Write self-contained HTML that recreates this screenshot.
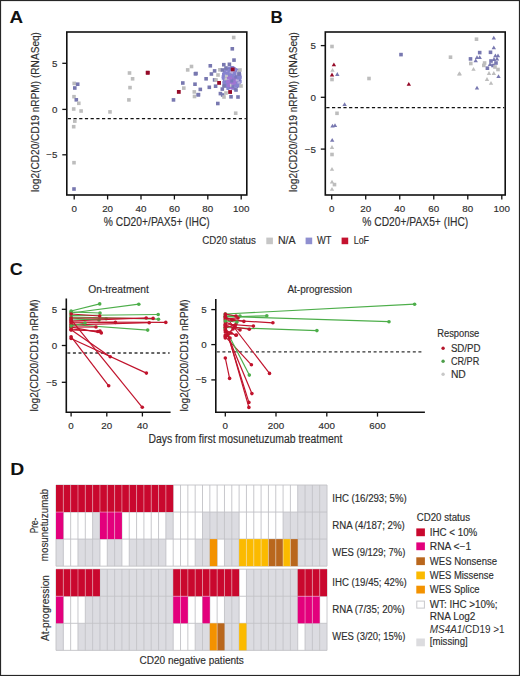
<!DOCTYPE html>
<html><head><meta charset="utf-8"><style>
html,body{margin:0;padding:0;background:#fff;}
svg{display:block;font-family:"Liberation Sans", sans-serif;}
</style></head><body>
<svg width="520" height="676" viewBox="0 0 520 676">
<rect width="520" height="676" fill="#fff"/>
<text x="9.6" y="22.6" font-size="17" text-anchor="start" font-weight="bold" fill="#111" textLength="13.6" lengthAdjust="spacingAndGlyphs">A</text>
<text x="270.4" y="22.6" font-size="17" text-anchor="start" font-weight="bold" fill="#111" textLength="12.3" lengthAdjust="spacingAndGlyphs">B</text>
<text x="9.8" y="275.3" font-size="17" text-anchor="start" font-weight="bold" fill="#111" textLength="13.0" lengthAdjust="spacingAndGlyphs">C</text>
<text x="10.2" y="474.8" font-size="17" text-anchor="start" font-weight="bold" fill="#111" textLength="14.0" lengthAdjust="spacingAndGlyphs">D</text>
<rect x="66.8" y="32" width="180.0" height="163" fill="none" stroke="#111" stroke-width="1.6"/>
<line x1="62.3" y1="63.3" x2="66.8" y2="63.3" stroke="#111" stroke-width="1.3"/>
<text x="57.4" y="66.7" font-size="9.8" text-anchor="end" fill="#2e2e2e" stroke="#2e2e2e" stroke-width="0.15">5</text>
<line x1="62.3" y1="109.4" x2="66.8" y2="109.4" stroke="#111" stroke-width="1.3"/>
<text x="57.4" y="112.80000000000001" font-size="9.8" text-anchor="end" fill="#2e2e2e" stroke="#2e2e2e" stroke-width="0.15">0</text>
<line x1="62.3" y1="154.8" x2="66.8" y2="154.8" stroke="#111" stroke-width="1.3"/>
<text x="57.4" y="158.20000000000002" font-size="9.8" text-anchor="end" fill="#2e2e2e" stroke="#2e2e2e" stroke-width="0.15">−5</text>
<line x1="74.2" y1="195" x2="74.2" y2="199.5" stroke="#111" stroke-width="1.3"/>
<text x="74.2" y="212" font-size="9.8" text-anchor="middle" fill="#2e2e2e" stroke="#2e2e2e" stroke-width="0.15">0</text>
<line x1="107.6" y1="195" x2="107.6" y2="199.5" stroke="#111" stroke-width="1.3"/>
<text x="107.6" y="212" font-size="9.8" text-anchor="middle" fill="#2e2e2e" stroke="#2e2e2e" stroke-width="0.15">20</text>
<line x1="141.0" y1="195" x2="141.0" y2="199.5" stroke="#111" stroke-width="1.3"/>
<text x="141.0" y="212" font-size="9.8" text-anchor="middle" fill="#2e2e2e" stroke="#2e2e2e" stroke-width="0.15">40</text>
<line x1="174.39999999999998" y1="195" x2="174.39999999999998" y2="199.5" stroke="#111" stroke-width="1.3"/>
<text x="174.39999999999998" y="212" font-size="9.8" text-anchor="middle" fill="#2e2e2e" stroke="#2e2e2e" stroke-width="0.15">60</text>
<line x1="207.8" y1="195" x2="207.8" y2="199.5" stroke="#111" stroke-width="1.3"/>
<text x="207.8" y="212" font-size="9.8" text-anchor="middle" fill="#2e2e2e" stroke="#2e2e2e" stroke-width="0.15">80</text>
<line x1="241.2" y1="195" x2="241.2" y2="199.5" stroke="#111" stroke-width="1.3"/>
<text x="241.2" y="212" font-size="9.8" text-anchor="middle" fill="#2e2e2e" stroke="#2e2e2e" stroke-width="0.15">100</text>
<line x1="67.8" y1="118.6" x2="245.8" y2="118.6" stroke="#111" stroke-width="1.3" stroke-dasharray="3.2,2.5"/>
<text x="156.8" y="225.8" font-size="11.9" text-anchor="middle" fill="#2e2e2e" stroke="#2e2e2e" stroke-width="0.15" textLength="106" lengthAdjust="spacingAndGlyphs">% CD20+/PAX5+ (IHC)</text>
<text transform="translate(38.8,112.0) rotate(-90)" x="0" y="0" font-size="11.6" text-anchor="middle" fill="#2e2e2e" stroke="#2e2e2e" stroke-width="0.15" textLength="160" lengthAdjust="spacingAndGlyphs">log2(CD20/CD19 nRPM) (RNASeq)</text>
<rect x="223.2" y="67.6" width="17" height="21.4" rx="6" ry="7" fill="#8c82d0"/>
<rect x="227.2" y="69.2" width="3.0" height="3.0" fill="#8683cf"/>
<rect x="222.8" y="77.6" width="3.0" height="3.0" fill="#8683cf"/>
<rect x="222.6" y="77.0" width="3.0" height="3.0" fill="#8683cf"/>
<rect x="229.1" y="67.4" width="3.0" height="3.0" fill="#8683cf"/>
<rect x="228.9" y="83.9" width="3.0" height="3.0" fill="#a176d2"/>
<rect x="225.4" y="79.6" width="3.0" height="3.0" fill="#b7b0dc"/>
<rect x="231.5" y="74.5" width="3.0" height="3.0" fill="#c4c4c8"/>
<rect x="226.6" y="69.0" width="3.0" height="3.0" fill="#8683cf"/>
<rect x="226.9" y="83.7" width="3.0" height="3.0" fill="#a176d2"/>
<rect x="231.6" y="79.8" width="3.0" height="3.0" fill="#a176d2"/>
<rect x="231.0" y="67.3" width="3.0" height="3.0" fill="#8683cf"/>
<rect x="225.1" y="80.7" width="3.0" height="3.0" fill="#a176d2"/>
<rect x="227.0" y="78.7" width="3.0" height="3.0" fill="#a176d2"/>
<rect x="226.8" y="83.2" width="3.0" height="3.0" fill="#8683cf"/>
<rect x="225.8" y="78.4" width="3.0" height="3.0" fill="#a176d2"/>
<rect x="236.7" y="81.8" width="3.0" height="3.0" fill="#8683cf"/>
<rect x="228.8" y="82.4" width="3.0" height="3.0" fill="#a176d2"/>
<rect x="230.0" y="66.8" width="3.0" height="3.0" fill="#8683cf"/>
<rect x="234.8" y="78.4" width="3.0" height="3.0" fill="#7a78bd"/>
<rect x="227.0" y="81.1" width="3.0" height="3.0" fill="#a176d2"/>
<rect x="231.6" y="75.8" width="3.0" height="3.0" fill="#7a78bd"/>
<rect x="237.8" y="76.2" width="3.0" height="3.0" fill="#8683cf"/>
<rect x="222.6" y="81.2" width="3.0" height="3.0" fill="#8683cf"/>
<rect x="226.5" y="74.3" width="3.0" height="3.0" fill="#8683cf"/>
<rect x="222.0" y="76.0" width="3.0" height="3.0" fill="#8683cf"/>
<rect x="234.8" y="68.7" width="3.0" height="3.0" fill="#8683cf"/>
<rect x="228.3" y="84.9" width="3.0" height="3.0" fill="#a176d2"/>
<rect x="229.3" y="77.9" width="3.0" height="3.0" fill="#b7b0dc"/>
<rect x="235.7" y="84.7" width="3.0" height="3.0" fill="#8683cf"/>
<rect x="228.7" y="73.7" width="3.0" height="3.0" fill="#b7b0dc"/>
<rect x="224.6" y="71.0" width="3.0" height="3.0" fill="#8683cf"/>
<rect x="229.9" y="78.7" width="3.0" height="3.0" fill="#a176d2"/>
<rect x="221.7" y="75.0" width="3.0" height="3.0" fill="#8683cf"/>
<rect x="231.3" y="86.7" width="3.0" height="3.0" fill="#8683cf"/>
<rect x="230.5" y="79.4" width="3.0" height="3.0" fill="#8683cf"/>
<rect x="235.0" y="85.0" width="3.0" height="3.0" fill="#7a78bd"/>
<rect x="228.3" y="74.6" width="3.0" height="3.0" fill="#a176d2"/>
<rect x="232.5" y="67.3" width="3.0" height="3.0" fill="#8683cf"/>
<rect x="225.2" y="69.4" width="3.0" height="3.0" fill="#8683cf"/>
<rect x="224.2" y="68.1" width="3.0" height="3.0" fill="#8683cf"/>
<rect x="232.2" y="69.1" width="3.0" height="3.0" fill="#8683cf"/>
<rect x="227.6" y="73.8" width="3.0" height="3.0" fill="#8683cf"/>
<rect x="229.6" y="76.4" width="3.0" height="3.0" fill="#a176d2"/>
<rect x="223.4" y="73.4" width="3.0" height="3.0" fill="#8683cf"/>
<rect x="235.9" y="69.4" width="3.0" height="3.0" fill="#8683cf"/>
<rect x="238.0" y="77.4" width="3.0" height="3.0" fill="#8683cf"/>
<rect x="230.9" y="66.5" width="3.0" height="3.0" fill="#8683cf"/>
<rect x="233.6" y="71.6" width="3.0" height="3.0" fill="#8683cf"/>
<rect x="224.5" y="82.7" width="3.0" height="3.0" fill="#8683cf"/>
<rect x="235.0" y="73.1" width="3.0" height="3.0" fill="#8683cf"/>
<rect x="236.3" y="83.5" width="3.0" height="3.0" fill="#7a78bd"/>
<rect x="234.3" y="70.8" width="3.0" height="3.0" fill="#8683cf"/>
<rect x="227.7" y="66.5" width="3.0" height="3.0" fill="#8683cf"/>
<rect x="226.4" y="71.6" width="3.0" height="3.0" fill="#8683cf"/>
<rect x="238.1" y="75.6" width="3.0" height="3.0" fill="#b7b0dc"/>
<rect x="227.9" y="70.7" width="3.0" height="3.0" fill="#8683cf"/>
<rect x="225.0" y="70.4" width="3.0" height="3.0" fill="#8683cf"/>
<rect x="237.1" y="84.2" width="3.0" height="3.0" fill="#8683cf"/>
<rect x="232.8" y="83.3" width="3.0" height="3.0" fill="#a176d2"/>
<rect x="233.0" y="85.7" width="3.0" height="3.0" fill="#7a78bd"/>
<rect x="234.5" y="76.3" width="3.0" height="3.0" fill="#8683cf"/>
<rect x="235.2" y="73.1" width="3.0" height="3.0" fill="#7a78bd"/>
<rect x="238.3" y="74.5" width="3.0" height="3.0" fill="#8683cf"/>
<rect x="237.9" y="81.7" width="3.0" height="3.0" fill="#8683cf"/>
<rect x="223.8" y="69.2" width="3.0" height="3.0" fill="#b7b0dc"/>
<rect x="235.5" y="69.1" width="3.0" height="3.0" fill="#7a78bd"/>
<rect x="238.5" y="80.2" width="3.0" height="3.0" fill="#8683cf"/>
<rect x="231.0" y="68.8" width="3.0" height="3.0" fill="#8683cf"/>
<rect x="238.3" y="80.1" width="3.0" height="3.0" fill="#8683cf"/>
<rect x="237.7" y="75.4" width="3.0" height="3.0" fill="#7a78bd"/>
<rect x="235.8" y="70.5" width="3.0" height="3.0" fill="#8683cf"/>
<rect x="226.6" y="71.1" width="3.0" height="3.0" fill="#8683cf"/>
<rect x="226.1" y="75.0" width="3.0" height="3.0" fill="#a176d2"/>
<rect x="237.3" y="73.6" width="3.0" height="3.0" fill="#8683cf"/>
<rect x="231.6" y="85.6" width="3.0" height="3.0" fill="#a176d2"/>
<rect x="237.4" y="76.8" width="3.0" height="3.0" fill="#8683cf"/>
<rect x="230.6" y="66.3" width="3.0" height="3.0" fill="#8683cf"/>
<rect x="235.3" y="69.7" width="3.0" height="3.0" fill="#8683cf"/>
<rect x="234.1" y="78.0" width="3.0" height="3.0" fill="#a176d2"/>
<rect x="230.5" y="78.0" width="3.0" height="3.0" fill="#7a78bd"/>
<rect x="223.4" y="78.1" width="3.0" height="3.0" fill="#8683cf"/>
<rect x="226.4" y="82.7" width="3.0" height="3.0" fill="#a176d2"/>
<rect x="231.3" y="82.5" width="3.0" height="3.0" fill="#b7b0dc"/>
<rect x="229.2" y="79.3" width="3.0" height="3.0" fill="#a176d2"/>
<rect x="230.4" y="81.0" width="3.0" height="3.0" fill="#a176d2"/>
<rect x="230.8" y="76.3" width="3.0" height="3.0" fill="#b7b0dc"/>
<rect x="233.6" y="85.0" width="3.0" height="3.0" fill="#b7b0dc"/>
<rect x="226.1" y="78.1" width="3.0" height="3.0" fill="#b7b0dc"/>
<rect x="236.0" y="68.9" width="3.0" height="3.0" fill="#8683cf"/>
<rect x="229.2" y="67.5" width="3.0" height="3.0" fill="#8683cf"/>
<rect x="222.9" y="80.5" width="3.0" height="3.0" fill="#7a78bd"/>
<rect x="237.0" y="69.3" width="3.0" height="3.0" fill="#7a78bd"/>
<rect x="233.0" y="69.0" width="3.0" height="3.0" fill="#b7b0dc"/>
<rect x="238.0" y="74.6" width="3.0" height="3.0" fill="#8683cf"/>
<rect x="224.4" y="75.3" width="3.0" height="3.0" fill="#8683cf"/>
<rect x="227.4" y="70.2" width="3.0" height="3.0" fill="#8683cf"/>
<rect x="231.1" y="75.5" width="3.0" height="3.0" fill="#a176d2"/>
<rect x="227.3" y="79.5" width="3.0" height="3.0" fill="#a176d2"/>
<rect x="223.4" y="71.7" width="3.0" height="3.0" fill="#8683cf"/>
<rect x="235.0" y="71.8" width="3.0" height="3.0" fill="#8683cf"/>
<rect x="228.9" y="85.8" width="3.0" height="3.0" fill="#7a78bd"/>
<rect x="226.0" y="69.2" width="3.0" height="3.0" fill="#b7b0dc"/>
<rect x="231.4" y="81.2" width="3.0" height="3.0" fill="#a176d2"/>
<rect x="222.6" y="80.9" width="3.0" height="3.0" fill="#8683cf"/>
<rect x="232.5" y="83.4" width="3.0" height="3.0" fill="#a176d2"/>
<rect x="236.4" y="75.8" width="3.0" height="3.0" fill="#8683cf"/>
<rect x="231.1" y="86.1" width="3.0" height="3.0" fill="#a176d2"/>
<rect x="223.8" y="77.4" width="3.0" height="3.0" fill="#8683cf"/>
<rect x="223.5" y="69.4" width="3.0" height="3.0" fill="#8683cf"/>
<rect x="225.1" y="72.7" width="3.0" height="3.0" fill="#8683cf"/>
<rect x="234.7" y="72.2" width="3.0" height="3.0" fill="#8683cf"/>
<rect x="224.7" y="73.5" width="3.0" height="3.0" fill="#8683cf"/>
<rect x="234.2" y="77.9" width="3.0" height="3.0" fill="#a176d2"/>
<rect x="229.8" y="86.3" width="3.0" height="3.0" fill="#a176d2"/>
<rect x="235.7" y="75.3" width="3.0" height="3.0" fill="#8683cf"/>
<rect x="236.0" y="74.5" width="3.0" height="3.0" fill="#8683cf"/>
<rect x="233.4" y="87.3" width="3.0" height="3.0" fill="#8683cf"/>
<rect x="235.9" y="81.3" width="3.0" height="3.0" fill="#8683cf"/>
<rect x="228.6" y="73.5" width="3.0" height="3.0" fill="#8683cf"/>
<rect x="234.3" y="71.5" width="3.0" height="3.0" fill="#8683cf"/>
<rect x="223.1" y="84.2" width="3.0" height="3.0" fill="#7a78bd"/>
<rect x="233.1" y="72.0" width="3.0" height="3.0" fill="#8683cf"/>
<rect x="226.6" y="75.9" width="3.0" height="3.0" fill="#a176d2"/>
<rect x="229.3" y="71.6" width="3.0" height="3.0" fill="#c4c4c8"/>
<rect x="238.3" y="77.8" width="3.0" height="3.0" fill="#8683cf"/>
<rect x="238.2" y="72.6" width="3.0" height="3.0" fill="#8683cf"/>
<rect x="229.8" y="76.9" width="3.0" height="3.0" fill="#a176d2"/>
<rect x="230.3" y="66.0" width="3.0" height="3.0" fill="#8683cf"/>
<rect x="223.1" y="74.6" width="3.0" height="3.0" fill="#8683cf"/>
<rect x="222.0" y="72.5" width="3.0" height="3.0" fill="#8683cf"/>
<rect x="231.7" y="77.4" width="3.0" height="3.0" fill="#7a78bd"/>
<rect x="232.9" y="81.5" width="3.0" height="3.0" fill="#7a78bd"/>
<rect x="228.3" y="73.0" width="3.0" height="3.0" fill="#c4c4c8"/>
<rect x="224.2" y="81.7" width="3.0" height="3.0" fill="#8683cf"/>
<rect x="236.9" y="79.6" width="3.0" height="3.0" fill="#7a78bd"/>
<rect x="235.6" y="68.9" width="3.0" height="3.0" fill="#8683cf"/>
<rect x="230.3" y="84.1" width="3.0" height="3.0" fill="#7a78bd"/>
<rect x="235.8" y="78.6" width="3.0" height="3.0" fill="#b7b0dc"/>
<rect x="233.3" y="81.0" width="3.0" height="3.0" fill="#a176d2"/>
<rect x="227.8" y="68.2" width="3.0" height="3.0" fill="#7a78bd"/>
<rect x="231.2" y="79.6" width="3.0" height="3.0" fill="#8683cf"/>
<rect x="233.3" y="76.6" width="3.0" height="3.0" fill="#a176d2"/>
<rect x="235.3" y="82.2" width="3.0" height="3.0" fill="#8683cf"/>
<rect x="230.8" y="80.3" width="3.0" height="3.0" fill="#a176d2"/>
<rect x="234.3" y="71.4" width="3.0" height="3.0" fill="#8683cf"/>
<rect x="226.2" y="81.8" width="3.0" height="3.0" fill="#a176d2"/>
<rect x="230.1" y="74.2" width="3.0" height="3.0" fill="#8683cf"/>
<rect x="233.4" y="82.6" width="3.0" height="3.0" fill="#a176d2"/>
<rect x="232.7" y="67.6" width="3.0" height="3.0" fill="#8683cf"/>
<rect x="226.0" y="82.1" width="3.0" height="3.0" fill="#a176d2"/>
<rect x="231.4" y="66.2" width="3.0" height="3.0" fill="#8683cf"/>
<rect x="226.2" y="80.5" width="3.0" height="3.0" fill="#8683cf"/>
<rect x="233.2" y="72.2" width="3.0" height="3.0" fill="#8683cf"/>
<rect x="229.6" y="76.1" width="3.0" height="3.0" fill="#a176d2"/>
<rect x="237.0" y="70.2" width="3.0" height="3.0" fill="#c4c4c8"/>
<rect x="229.5" y="83.8" width="3.0" height="3.0" fill="#c4c4c8"/>
<rect x="229.3" y="71.8" width="3.0" height="3.0" fill="#8683cf"/>
<rect x="237.9" y="70.5" width="3.0" height="3.0" fill="#8683cf"/>
<rect x="224.0" y="77.3" width="3.0" height="3.0" fill="#c4c4c8"/>
<rect x="223.9" y="83.8" width="3.0" height="3.0" fill="#8683cf"/>
<rect x="236.9" y="81.2" width="3.0" height="3.0" fill="#8683cf"/>
<rect x="237.0" y="76.5" width="3.0" height="3.0" fill="#8683cf"/>
<rect x="221.7" y="76.6" width="3.0" height="3.0" fill="#8683cf"/>
<rect x="226.8" y="69.0" width="3.0" height="3.0" fill="#8683cf"/>
<rect x="227.0" y="84.2" width="3.0" height="3.0" fill="#a176d2"/>
<rect x="234.5" y="84.2" width="3.0" height="3.0" fill="#8683cf"/>
<rect x="237.5" y="81.4" width="3.0" height="3.0" fill="#b7b0dc"/>
<rect x="226.6" y="74.0" width="3.0" height="3.0" fill="#8683cf"/>
<rect x="227.8" y="75.2" width="3.0" height="3.0" fill="#a176d2"/>
<rect x="236.0" y="72.1" width="3.0" height="3.0" fill="#b7b0dc"/>
<rect x="225.9" y="71.7" width="3.0" height="3.0" fill="#8683cf"/>
<rect x="224.9" y="74.0" width="3.0" height="3.0" fill="#c4c4c8"/>
<rect x="236.8" y="83.6" width="3.0" height="3.0" fill="#8683cf"/>
<rect x="231.0" y="81.6" width="3.0" height="3.0" fill="#a176d2"/>
<rect x="234.2" y="75.7" width="3.0" height="3.0" fill="#7a78bd"/>
<rect x="232.7" y="72.1" width="3.0" height="3.0" fill="#8683cf"/>
<rect x="229.7" y="73.4" width="3.0" height="3.0" fill="#8683cf"/>
<rect x="226.1" y="80.2" width="3.0" height="3.0" fill="#a176d2"/>
<rect x="231.2" y="74.5" width="3.0" height="3.0" fill="#8683cf"/>
<rect x="224.4" y="70.4" width="3.0" height="3.0" fill="#b7b0dc"/>
<rect x="230.1" y="70.7" width="3.0" height="3.0" fill="#b7b0dc"/>
<rect x="238.7" y="75.7" width="3.0" height="3.0" fill="#8683cf"/>
<rect x="224.9" y="67.9" width="3.0" height="3.0" fill="#8683cf"/>
<rect x="223.2" y="71.1" width="3.0" height="3.0" fill="#8683cf"/>
<rect x="231.4" y="85.2" width="3.0" height="3.0" fill="#7a78bd"/>
<rect x="228.7" y="74.9" width="3.0" height="3.0" fill="#a176d2"/>
<rect x="228.1" y="73.3" width="3.0" height="3.0" fill="#8683cf"/>
<rect x="226.4" y="87.0" width="3.0" height="3.0" fill="#8683cf"/>
<rect x="230.3" y="79.6" width="3.0" height="3.0" fill="#7a78bd"/>
<rect x="225.3" y="71.8" width="3.0" height="3.0" fill="#8683cf"/>
<rect x="72.4" y="81.6" width="3.6" height="3.6" fill="#bdbdbd"/>
<rect x="75.9" y="82.4" width="3.6" height="3.6" fill="#7878b0"/>
<rect x="73.0" y="86.2" width="3.6" height="3.6" fill="#7878b0"/>
<rect x="72.2" y="94.9" width="3.6" height="3.6" fill="#bdbdbd"/>
<rect x="74.5" y="98.0" width="3.6" height="3.6" fill="#7878b0"/>
<rect x="77.0" y="101.5" width="3.6" height="3.6" fill="#bdbdbd"/>
<rect x="71.9" y="107.2" width="3.6" height="3.6" fill="#bdbdbd"/>
<rect x="79.3" y="109.2" width="3.6" height="3.6" fill="#bdbdbd"/>
<rect x="108.2" y="110.1" width="3.6" height="3.6" fill="#bdbdbd"/>
<rect x="73.0" y="119.3" width="3.6" height="3.6" fill="#bdbdbd"/>
<rect x="71.9" y="124.9" width="3.6" height="3.6" fill="#bdbdbd"/>
<rect x="72.2" y="160.9" width="3.6" height="3.6" fill="#bdbdbd"/>
<rect x="72.2" y="187.2" width="3.6" height="3.6" fill="#7878b0"/>
<rect x="127.7" y="71.2" width="3.6" height="3.6" fill="#bdbdbd"/>
<rect x="145.9" y="70.9" width="3.6" height="3.6" fill="#950a28"/>
<rect x="130.8" y="77.0" width="3.6" height="3.6" fill="#bdbdbd"/>
<rect x="128.2" y="85.8" width="3.6" height="3.6" fill="#bdbdbd"/>
<rect x="127.1" y="98.1" width="3.6" height="3.6" fill="#bdbdbd"/>
<rect x="189.7" y="64.7" width="3.6" height="3.6" fill="#bdbdbd"/>
<rect x="185.9" y="68.1" width="3.6" height="3.6" fill="#bdbdbd"/>
<rect x="193.6" y="72.0" width="3.6" height="3.6" fill="#7878b0"/>
<rect x="181.0" y="81.2" width="3.6" height="3.6" fill="#7878b0"/>
<rect x="193.2" y="82.4" width="3.6" height="3.6" fill="#7878b0"/>
<rect x="182.0" y="86.3" width="3.6" height="3.6" fill="#bdbdbd"/>
<rect x="192.5" y="90.1" width="3.6" height="3.6" fill="#bdbdbd"/>
<rect x="192.7" y="94.7" width="3.6" height="3.6" fill="#bdbdbd"/>
<rect x="196.7" y="92.9" width="3.6" height="3.6" fill="#7878b0"/>
<rect x="171.7" y="98.1" width="3.6" height="3.6" fill="#7878b0"/>
<rect x="231.9" y="35.7" width="3.6" height="3.6" fill="#bdbdbd"/>
<rect x="230.5" y="47.0" width="3.6" height="3.6" fill="#7878b0"/>
<rect x="232.2" y="58.3" width="3.6" height="3.6" fill="#7878b0"/>
<rect x="208.5" y="64.0" width="3.6" height="3.6" fill="#7878b0"/>
<rect x="222.0" y="62.9" width="3.6" height="3.6" fill="#7878b0"/>
<rect x="227.6" y="62.5" width="3.6" height="3.6" fill="#7878b0"/>
<rect x="212.8" y="69.1" width="3.6" height="3.6" fill="#7878b0"/>
<rect x="218.1" y="68.0" width="3.6" height="3.6" fill="#bdbdbd"/>
<rect x="209.6" y="72.2" width="3.6" height="3.6" fill="#7878b0"/>
<rect x="204.3" y="77.0" width="3.6" height="3.6" fill="#7878b0"/>
<rect x="212.8" y="78.1" width="3.6" height="3.6" fill="#7878b0"/>
<rect x="207.5" y="85.5" width="3.6" height="3.6" fill="#7878b0"/>
<rect x="213.8" y="84.4" width="3.6" height="3.6" fill="#7878b0"/>
<rect x="220.5" y="87.3" width="3.6" height="3.6" fill="#7878b0"/>
<rect x="218.6" y="91.8" width="3.6" height="3.6" fill="#7878b0"/>
<rect x="220.9" y="93.2" width="3.6" height="3.6" fill="#7878b0"/>
<rect x="229.2" y="95.0" width="3.6" height="3.6" fill="#7878b0"/>
<rect x="216.0" y="101.7" width="3.6" height="3.6" fill="#7878b0"/>
<rect x="233.9" y="111.4" width="3.6" height="3.6" fill="#bdbdbd"/>
<rect x="198.5" y="87.6" width="3.6" height="3.6" fill="#7878b0"/>
<rect x="196.4" y="92.9" width="3.6" height="3.6" fill="#7878b0"/>
<rect x="194.2" y="71.7" width="3.6" height="3.6" fill="#7878b0"/>
<rect x="216.2" y="73.2" width="3.6" height="3.6" fill="#bdbdbd"/>
<rect x="214.2" y="78.2" width="3.6" height="3.6" fill="#bdbdbd"/>
<rect x="224.2" y="91.2" width="3.6" height="3.6" fill="#bdbdbd"/>
<rect x="222.2" y="95.2" width="3.6" height="3.6" fill="#bdbdbd"/>
<rect x="236.2" y="95.2" width="3.6" height="3.6" fill="#7878b0"/>
<rect x="238.2" y="68.2" width="3.6" height="3.6" fill="#bdbdbd"/>
<rect x="239.2" y="84.2" width="3.6" height="3.6" fill="#bdbdbd"/>
<rect x="220.7" y="68.2" width="3.6" height="3.6" fill="#7878b0"/>
<rect x="224.2" y="66.2" width="3.6" height="3.6" fill="#7878b0"/>
<rect x="222.2" y="84.2" width="3.6" height="3.6" fill="#7878b0"/>
<rect x="234.2" y="88.2" width="3.6" height="3.6" fill="#7878b0"/>
<rect x="237.2" y="72.2" width="3.6" height="3.6" fill="#7878b0"/>
<rect x="230.8" y="67.5" width="3.8" height="3.8" fill="#950a28"/>
<rect x="217.2" y="81.0" width="3.8" height="3.8" fill="#950a28"/>
<rect x="228.2" y="90.1" width="3.8" height="3.8" fill="#950a28"/>
<rect x="176.9" y="90.0" width="3.8" height="3.8" fill="#950a28"/>
<rect x="145.8" y="70.8" width="3.8" height="3.8" fill="#950a28"/>
<rect x="325.3" y="32" width="179.89999999999998" height="163" fill="none" stroke="#111" stroke-width="1.6"/>
<line x1="320.8" y1="45.6" x2="325.3" y2="45.6" stroke="#111" stroke-width="1.3"/>
<text x="315.90000000000003" y="49.0" font-size="9.8" text-anchor="end" fill="#2e2e2e" stroke="#2e2e2e" stroke-width="0.15">5</text>
<line x1="320.8" y1="97.3" x2="325.3" y2="97.3" stroke="#111" stroke-width="1.3"/>
<text x="315.90000000000003" y="100.7" font-size="9.8" text-anchor="end" fill="#2e2e2e" stroke="#2e2e2e" stroke-width="0.15">0</text>
<line x1="320.8" y1="149.1" x2="325.3" y2="149.1" stroke="#111" stroke-width="1.3"/>
<text x="315.90000000000003" y="152.5" font-size="9.8" text-anchor="end" fill="#2e2e2e" stroke="#2e2e2e" stroke-width="0.15">−5</text>
<line x1="331.7" y1="195" x2="331.7" y2="199.5" stroke="#111" stroke-width="1.3"/>
<text x="331.7" y="212" font-size="9.8" text-anchor="middle" fill="#2e2e2e" stroke="#2e2e2e" stroke-width="0.15">0</text>
<line x1="365.71999999999997" y1="195" x2="365.71999999999997" y2="199.5" stroke="#111" stroke-width="1.3"/>
<text x="365.71999999999997" y="212" font-size="9.8" text-anchor="middle" fill="#2e2e2e" stroke="#2e2e2e" stroke-width="0.15">20</text>
<line x1="399.74" y1="195" x2="399.74" y2="199.5" stroke="#111" stroke-width="1.3"/>
<text x="399.74" y="212" font-size="9.8" text-anchor="middle" fill="#2e2e2e" stroke="#2e2e2e" stroke-width="0.15">40</text>
<line x1="433.76" y1="195" x2="433.76" y2="199.5" stroke="#111" stroke-width="1.3"/>
<text x="433.76" y="212" font-size="9.8" text-anchor="middle" fill="#2e2e2e" stroke="#2e2e2e" stroke-width="0.15">60</text>
<line x1="467.78" y1="195" x2="467.78" y2="199.5" stroke="#111" stroke-width="1.3"/>
<text x="467.78" y="212" font-size="9.8" text-anchor="middle" fill="#2e2e2e" stroke="#2e2e2e" stroke-width="0.15">80</text>
<line x1="501.8" y1="195" x2="501.8" y2="199.5" stroke="#111" stroke-width="1.3"/>
<text x="501.8" y="212" font-size="9.8" text-anchor="middle" fill="#2e2e2e" stroke="#2e2e2e" stroke-width="0.15">100</text>
<line x1="326.3" y1="107.7" x2="504.2" y2="107.7" stroke="#111" stroke-width="1.3" stroke-dasharray="3.2,2.5"/>
<text x="415.25" y="225.8" font-size="11.9" text-anchor="middle" fill="#2e2e2e" stroke="#2e2e2e" stroke-width="0.15" textLength="106" lengthAdjust="spacingAndGlyphs">% CD20+/PAX5+ (IHC)</text>
<text transform="translate(297.3,112.0) rotate(-90)" x="0" y="0" font-size="11.6" text-anchor="middle" fill="#2e2e2e" stroke="#2e2e2e" stroke-width="0.15" textLength="160" lengthAdjust="spacingAndGlyphs">log2(CD20/CD19 nRPM) (RNASeq)</text>
<rect x="474.7" y="37.4" width="3.6" height="3.6" fill="#bdbdbd"/>
<path d="M491.6,39.6L493.8,35.8L496.0,39.6Z" fill="#7878b0"/>
<path d="M491.6,49.3L493.8,45.5L496.0,49.3Z" fill="#7878b0"/>
<rect x="448.7" y="55.4" width="3.6" height="3.6" fill="#bdbdbd"/>
<rect x="477.9" y="50.8" width="3.6" height="3.6" fill="#7878b0"/>
<rect x="488.7" y="50.5" width="3.6" height="3.6" fill="#7878b0"/>
<rect x="468.7" y="57.1" width="3.6" height="3.6" fill="#7878b0"/>
<path d="M474.8,59.1L477.0,55.3L479.2,59.1Z" fill="#7878b0"/>
<path d="M477.5,59.1L479.7,55.3L481.9,59.1Z" fill="#7878b0"/>
<path d="M473.5,62.2L475.7,58.4L477.9,62.2Z" fill="#7878b0"/>
<path d="M493.2,57.3L495.4,53.5L497.6,57.3Z" fill="#7878b0"/>
<path d="M495.8,57.3L498.0,53.5L500.2,57.3Z" fill="#7878b0"/>
<rect x="469.0" y="61.7" width="3.6" height="3.6" fill="#bdbdbd"/>
<rect x="482.8" y="61.2" width="3.6" height="3.6" fill="#bdbdbd"/>
<rect x="482.0" y="63.6" width="3.6" height="3.6" fill="#bdbdbd"/>
<rect x="485.6" y="66.4" width="3.6" height="3.6" fill="#7878b0"/>
<path d="M471.3,70.8L473.5,67.0L475.7,70.8Z" fill="#bdbdbd"/>
<path d="M457.5,75.3L459.7,71.5L461.9,75.3Z" fill="#bdbdbd"/>
<path d="M486.8,74.9L489.0,71.1L491.2,74.9Z" fill="#bdbdbd"/>
<path d="M491.6,74.9L493.8,71.1L496.0,74.9Z" fill="#bdbdbd"/>
<rect x="496.2" y="67.7" width="3.6" height="3.6" fill="#bdbdbd"/>
<path d="M496.3,78.1L498.5,74.3L500.7,78.1Z" fill="#7878b0"/>
<path d="M484.8,80.9L487.0,77.1L489.2,80.9Z" fill="#bdbdbd"/>
<path d="M488.8,84.7L491.0,80.9L493.2,84.7Z" fill="#bdbdbd"/>
<path d="M474.8,89.6L477.0,85.8L479.2,89.6Z" fill="#7878b0"/>
<rect x="489.2" y="59.2" width="3.6" height="3.6" fill="#7878b0"/>
<path d="M491.8,60.9L494.0,57.1L496.2,60.9Z" fill="#7878b0"/>
<rect x="494.2" y="61.2" width="3.6" height="3.6" fill="#7878b0"/>
<rect x="491.2" y="63.7" width="3.6" height="3.6" fill="#7878b0"/>
<path d="M494.8,60.4L497.0,56.6L499.2,60.4Z" fill="#7878b0"/>
<rect x="493.2" y="65.2" width="3.6" height="3.6" fill="#bdbdbd"/>
<path d="M487.8,65.9L490.0,62.1L492.2,65.9Z" fill="#7878b0"/>
<rect x="330.2" y="44.7" width="3.6" height="3.6" fill="#bdbdbd"/>
<path d="M330.3,71.8L332.5,68.0L334.7,71.8Z" fill="#bdbdbd"/>
<path d="M335.1,75.9L337.3,72.1L339.5,75.9Z" fill="#7878b0"/>
<rect x="330.2" y="77.7" width="3.6" height="3.6" fill="#bdbdbd"/>
<rect x="367.2" y="76.7" width="3.6" height="3.6" fill="#bdbdbd"/>
<path d="M342.4,106.1L344.6,102.3L346.8,106.1Z" fill="#7878b0"/>
<rect x="399.2" y="52.8" width="3.6" height="3.6" fill="#7878b0"/>
<path d="M457.0,75.4L459.2,71.6L461.4,75.4Z" fill="#bdbdbd"/>
<rect x="335.2" y="111.5" width="3.6" height="3.6" fill="#bdbdbd"/>
<path d="M330.3,127.5L332.5,123.7L334.7,127.5Z" fill="#7878b0"/>
<path d="M332.8,127.1L335.0,123.3L337.2,127.1Z" fill="#7878b0"/>
<path d="M330.0,141.8L332.2,138.0L334.4,141.8Z" fill="#7878b0"/>
<path d="M329.8,148.9L332.0,145.1L334.2,148.9Z" fill="#bdbdbd"/>
<rect x="330.2" y="152.7" width="3.6" height="3.6" fill="#bdbdbd"/>
<path d="M329.8,170.8L332.0,167.0L334.2,170.8Z" fill="#bdbdbd"/>
<path d="M329.8,183.5L332.0,179.7L334.2,183.5Z" fill="#bdbdbd"/>
<rect x="332.7" y="182.8" width="3.6" height="3.6" fill="#bdbdbd"/>
<path d="M329.8,190.8L332.0,187.0L334.2,190.8Z" fill="#bdbdbd"/>
<path d="M331.7,66.3L333.9,62.5L336.1,66.3Z" fill="#950a28"/>
<path d="M329.8,76.4L332.0,72.6L334.2,76.4Z" fill="#950a28"/>
<path d="M406.6,85.7L408.8,81.9L411.0,85.7Z" fill="#950a28"/>
<text x="202.3" y="243.6" font-size="10" text-anchor="start" fill="#2e2e2e" stroke="#2e2e2e" stroke-width="0.15" textLength="53.5" lengthAdjust="spacingAndGlyphs">CD20 status</text>
<rect x="266.3" y="237.6" width="6.6" height="6.6" fill="#c6c6c6"/>
<text x="277.9" y="243.6" font-size="10" text-anchor="start" fill="#2e2e2e" stroke="#2e2e2e" stroke-width="0.15" textLength="17.7" lengthAdjust="spacingAndGlyphs">N/A</text>
<rect x="305.6" y="237.6" width="6.6" height="6.6" fill="#8f8fd0"/>
<text x="317.1" y="243.6" font-size="10" text-anchor="start" fill="#2e2e2e" stroke="#2e2e2e" stroke-width="0.15" textLength="14.4" lengthAdjust="spacingAndGlyphs">WT</text>
<rect x="341.6" y="237.6" width="6.6" height="6.6" fill="#c4122f"/>
<text x="353.7" y="243.6" font-size="10" text-anchor="start" fill="#2e2e2e" stroke="#2e2e2e" stroke-width="0.15" textLength="15.3" lengthAdjust="spacingAndGlyphs">LoF</text>
<path d="M66.3,298.4 V412.2 H170.6" fill="none" stroke="#111" stroke-width="1.6"/>
<line x1="61.8" y1="309.3" x2="66.3" y2="309.3" stroke="#111" stroke-width="1.3"/>
<text x="57.3" y="312.7" font-size="9.8" text-anchor="end" fill="#2e2e2e" stroke="#2e2e2e" stroke-width="0.15">5</text>
<line x1="61.8" y1="345.5" x2="66.3" y2="345.5" stroke="#111" stroke-width="1.3"/>
<text x="57.3" y="348.9" font-size="9.8" text-anchor="end" fill="#2e2e2e" stroke="#2e2e2e" stroke-width="0.15">0</text>
<line x1="61.8" y1="382.3" x2="66.3" y2="382.3" stroke="#111" stroke-width="1.3"/>
<text x="57.3" y="385.7" font-size="9.8" text-anchor="end" fill="#2e2e2e" stroke="#2e2e2e" stroke-width="0.15">−5</text>
<line x1="71.1" y1="412.2" x2="71.1" y2="416.5" stroke="#111" stroke-width="1.3"/>
<text x="71.1" y="429.2" font-size="9.8" text-anchor="middle" fill="#2e2e2e" stroke="#2e2e2e" stroke-width="0.15">0</text>
<line x1="106.8" y1="412.2" x2="106.8" y2="416.5" stroke="#111" stroke-width="1.3"/>
<text x="106.8" y="429.2" font-size="9.8" text-anchor="middle" fill="#2e2e2e" stroke="#2e2e2e" stroke-width="0.15">20</text>
<line x1="142.4" y1="412.2" x2="142.4" y2="416.5" stroke="#111" stroke-width="1.3"/>
<text x="142.4" y="429.2" font-size="9.8" text-anchor="middle" fill="#2e2e2e" stroke="#2e2e2e" stroke-width="0.15">40</text>
<line x1="67.3" y1="353" x2="169.6" y2="353" stroke="#333" stroke-width="1.3" stroke-dasharray="3,2.6"/>
<text x="118.5" y="293.2" font-size="10" text-anchor="middle" fill="#2e2e2e" stroke="#2e2e2e" stroke-width="0.15" textLength="60.7" lengthAdjust="spacingAndGlyphs">On-treatment</text>
<text transform="translate(37.9,355.4) rotate(-90)" x="0" y="0" font-size="11.6" text-anchor="middle" fill="#2e2e2e" stroke="#2e2e2e" stroke-width="0.15" textLength="112" lengthAdjust="spacingAndGlyphs">log2(CD20/CD19 nRPM)</text>
<path d="M215.8,298.9 V412.3 H424.9" fill="none" stroke="#111" stroke-width="1.6"/>
<line x1="211.3" y1="309.6" x2="215.8" y2="309.6" stroke="#111" stroke-width="1.3"/>
<text x="206.8" y="313.0" font-size="9.8" text-anchor="end" fill="#2e2e2e" stroke="#2e2e2e" stroke-width="0.15">5</text>
<line x1="211.3" y1="344.6" x2="215.8" y2="344.6" stroke="#111" stroke-width="1.3"/>
<text x="206.8" y="348.0" font-size="9.8" text-anchor="end" fill="#2e2e2e" stroke="#2e2e2e" stroke-width="0.15">0</text>
<line x1="211.3" y1="379.9" x2="215.8" y2="379.9" stroke="#111" stroke-width="1.3"/>
<text x="206.8" y="383.29999999999995" font-size="9.8" text-anchor="end" fill="#2e2e2e" stroke="#2e2e2e" stroke-width="0.15">−5</text>
<line x1="225.3" y1="412.3" x2="225.3" y2="416.6" stroke="#111" stroke-width="1.3"/>
<text x="225.3" y="429.2" font-size="9.8" text-anchor="middle" fill="#2e2e2e" stroke="#2e2e2e" stroke-width="0.15">0</text>
<line x1="276.0" y1="412.3" x2="276.0" y2="416.6" stroke="#111" stroke-width="1.3"/>
<text x="276.0" y="429.2" font-size="9.8" text-anchor="middle" fill="#2e2e2e" stroke="#2e2e2e" stroke-width="0.15">200</text>
<line x1="326.8" y1="412.3" x2="326.8" y2="416.6" stroke="#111" stroke-width="1.3"/>
<text x="326.8" y="429.2" font-size="9.8" text-anchor="middle" fill="#2e2e2e" stroke="#2e2e2e" stroke-width="0.15">400</text>
<line x1="377.5" y1="412.3" x2="377.5" y2="416.6" stroke="#111" stroke-width="1.3"/>
<text x="377.5" y="429.2" font-size="9.8" text-anchor="middle" fill="#2e2e2e" stroke="#2e2e2e" stroke-width="0.15">600</text>
<line x1="216.8" y1="351.8" x2="423.9" y2="351.8" stroke="#333" stroke-width="1.3" stroke-dasharray="3,2.6"/>
<text x="319.8" y="293.2" font-size="10" text-anchor="middle" fill="#2e2e2e" stroke="#2e2e2e" stroke-width="0.15" textLength="64.7" lengthAdjust="spacingAndGlyphs">At-progression</text>
<text transform="translate(187.7,355.4) rotate(-90)" x="0" y="0" font-size="11.6" text-anchor="middle" fill="#2e2e2e" stroke="#2e2e2e" stroke-width="0.15" textLength="112" lengthAdjust="spacingAndGlyphs">log2(CD20/CD19 nRPM)</text>
<line x1="71.1" y1="311" x2="99.7" y2="303.9" stroke="#4dae4a" stroke-width="1.2"/>
<circle cx="71.1" cy="311" r="1.8" fill="#4dae4a"/><circle cx="99.7" cy="303.9" r="1.8" fill="#4dae4a"/>
<line x1="71.1" y1="313" x2="138.8" y2="304.2" stroke="#4dae4a" stroke-width="1.2"/>
<circle cx="71.1" cy="313" r="1.8" fill="#4dae4a"/><circle cx="138.8" cy="304.2" r="1.8" fill="#4dae4a"/>
<line x1="71.1" y1="315.5" x2="158.2" y2="314.5" stroke="#4dae4a" stroke-width="1.2"/>
<circle cx="71.1" cy="315.5" r="1.8" fill="#4dae4a"/><circle cx="158.2" cy="314.5" r="1.8" fill="#4dae4a"/>
<line x1="71.1" y1="317" x2="158.5" y2="319.2" stroke="#4dae4a" stroke-width="1.2"/>
<circle cx="71.1" cy="317" r="1.8" fill="#4dae4a"/><circle cx="158.5" cy="319.2" r="1.8" fill="#4dae4a"/>
<line x1="71.1" y1="324.5" x2="147.7" y2="330.1" stroke="#4dae4a" stroke-width="1.2"/>
<circle cx="71.1" cy="324.5" r="1.8" fill="#4dae4a"/><circle cx="147.7" cy="330.1" r="1.8" fill="#4dae4a"/>
<line x1="71.1" y1="320" x2="106.2" y2="318.8" stroke="#4dae4a" stroke-width="1.2"/>
<circle cx="71.1" cy="320" r="1.8" fill="#4dae4a"/><circle cx="106.2" cy="318.8" r="1.8" fill="#4dae4a"/>
<line x1="71.1" y1="318" x2="99" y2="320" stroke="#4dae4a" stroke-width="1.2"/>
<circle cx="71.1" cy="318" r="1.8" fill="#4dae4a"/><circle cx="99" cy="320" r="1.8" fill="#4dae4a"/>
<line x1="71.1" y1="312" x2="100" y2="313" stroke="#4dae4a" stroke-width="1.2"/>
<circle cx="71.1" cy="312" r="1.8" fill="#4dae4a"/><circle cx="100" cy="313" r="1.8" fill="#4dae4a"/>
<line x1="71.1" y1="318" x2="153.1" y2="318.4" stroke="#c0132c" stroke-width="1.2"/>
<circle cx="71.1" cy="318" r="1.8" fill="#c0132c"/><circle cx="153.1" cy="318.4" r="1.8" fill="#c0132c"/>
<line x1="71.1" y1="322" x2="165.8" y2="322.4" stroke="#c0132c" stroke-width="1.2"/>
<circle cx="71.1" cy="322" r="1.8" fill="#c0132c"/><circle cx="165.8" cy="322.4" r="1.8" fill="#c0132c"/>
<line x1="71.1" y1="321" x2="146.2" y2="318" stroke="#c0132c" stroke-width="1.2"/>
<circle cx="71.1" cy="321" r="1.8" fill="#c0132c"/><circle cx="146.2" cy="318" r="1.8" fill="#c0132c"/>
<line x1="71.1" y1="325" x2="149.2" y2="322.7" stroke="#c0132c" stroke-width="1.2"/>
<circle cx="71.1" cy="325" r="1.8" fill="#c0132c"/><circle cx="149.2" cy="322.7" r="1.8" fill="#c0132c"/>
<line x1="71.1" y1="323" x2="115.4" y2="322.4" stroke="#c0132c" stroke-width="1.2"/>
<circle cx="71.1" cy="323" r="1.8" fill="#c0132c"/><circle cx="115.4" cy="322.4" r="1.8" fill="#c0132c"/>
<line x1="71.1" y1="327" x2="101.3" y2="332.9" stroke="#c0132c" stroke-width="1.2"/>
<circle cx="71.1" cy="327" r="1.8" fill="#c0132c"/><circle cx="101.3" cy="332.9" r="1.8" fill="#c0132c"/>
<line x1="71.1" y1="329" x2="97.9" y2="331.5" stroke="#c0132c" stroke-width="1.2"/>
<circle cx="71.1" cy="329" r="1.8" fill="#c0132c"/><circle cx="97.9" cy="331.5" r="1.8" fill="#c0132c"/>
<line x1="71.1" y1="314" x2="99.7" y2="316" stroke="#c0132c" stroke-width="1.2"/>
<circle cx="71.1" cy="314" r="1.8" fill="#c0132c"/><circle cx="99.7" cy="316" r="1.8" fill="#c0132c"/>
<line x1="71.1" y1="327" x2="96" y2="327" stroke="#c0132c" stroke-width="1.2"/>
<circle cx="71.1" cy="327" r="1.8" fill="#c0132c"/><circle cx="96" cy="327" r="1.8" fill="#c0132c"/>
<line x1="71.1" y1="330" x2="100" y2="331" stroke="#c0132c" stroke-width="1.2"/>
<circle cx="71.1" cy="330" r="1.8" fill="#c0132c"/><circle cx="100" cy="331" r="1.8" fill="#c0132c"/>
<line x1="71.1" y1="326" x2="85" y2="323" stroke="#4dae4a" stroke-width="1.2"/>
<circle cx="71.1" cy="326" r="1.8" fill="#4dae4a"/><circle cx="85" cy="323" r="1.8" fill="#4dae4a"/>
<line x1="71.1" y1="336.7" x2="108.7" y2="385.8" stroke="#c0132c" stroke-width="1.2"/>
<circle cx="71.1" cy="336.7" r="1.8" fill="#c0132c"/><circle cx="108.7" cy="385.8" r="1.8" fill="#c0132c"/>
<line x1="71.1" y1="338.5" x2="146.4" y2="373.1" stroke="#c0132c" stroke-width="1.2"/>
<circle cx="71.1" cy="338.5" r="1.8" fill="#c0132c"/><circle cx="146.4" cy="373.1" r="1.8" fill="#c0132c"/>
<line x1="71.1" y1="319.7" x2="142.3" y2="407.3" stroke="#c0132c" stroke-width="1.2"/>
<circle cx="71.1" cy="319.7" r="1.8" fill="#c0132c"/><circle cx="142.3" cy="407.3" r="1.8" fill="#c0132c"/>
<line x1="71.1" y1="329.8" x2="110.2" y2="356.7" stroke="#c0132c" stroke-width="1.2"/>
<circle cx="71.1" cy="329.8" r="1.8" fill="#c0132c"/><circle cx="110.2" cy="356.7" r="1.8" fill="#c0132c"/>
<line x1="225.3" y1="314" x2="414.6" y2="304.2" stroke="#4dae4a" stroke-width="1.2"/>
<circle cx="225.3" cy="314" r="1.8" fill="#4dae4a"/><circle cx="414.6" cy="304.2" r="1.8" fill="#4dae4a"/>
<line x1="225.3" y1="316.5" x2="389" y2="321.7" stroke="#4dae4a" stroke-width="1.2"/>
<circle cx="225.3" cy="316.5" r="1.8" fill="#4dae4a"/><circle cx="389" cy="321.7" r="1.8" fill="#4dae4a"/>
<line x1="225.3" y1="327.5" x2="316.9" y2="330.6" stroke="#4dae4a" stroke-width="1.2"/>
<circle cx="225.3" cy="327.5" r="1.8" fill="#4dae4a"/><circle cx="316.9" cy="330.6" r="1.8" fill="#4dae4a"/>
<line x1="225.3" y1="317" x2="266.8" y2="315.8" stroke="#4dae4a" stroke-width="1.2"/>
<circle cx="225.3" cy="317" r="1.8" fill="#4dae4a"/><circle cx="266.8" cy="315.8" r="1.8" fill="#4dae4a"/>
<line x1="225.3" y1="315" x2="240" y2="316" stroke="#4dae4a" stroke-width="1.2"/>
<circle cx="225.3" cy="315" r="1.8" fill="#4dae4a"/><circle cx="240" cy="316" r="1.8" fill="#4dae4a"/>
<line x1="225.3" y1="320" x2="272.9" y2="322.8" stroke="#c0132c" stroke-width="1.2"/>
<circle cx="225.3" cy="320" r="1.8" fill="#c0132c"/><circle cx="272.9" cy="322.8" r="1.8" fill="#c0132c"/>
<line x1="225.3" y1="324" x2="253.4" y2="326.1" stroke="#c0132c" stroke-width="1.2"/>
<circle cx="225.3" cy="324" r="1.8" fill="#c0132c"/><circle cx="253.4" cy="326.1" r="1.8" fill="#c0132c"/>
<line x1="225.3" y1="326" x2="249.3" y2="329.2" stroke="#c0132c" stroke-width="1.2"/>
<circle cx="225.3" cy="326" r="1.8" fill="#c0132c"/><circle cx="249.3" cy="329.2" r="1.8" fill="#c0132c"/>
<line x1="225.3" y1="318" x2="243.9" y2="321.4" stroke="#c0132c" stroke-width="1.2"/>
<circle cx="225.3" cy="318" r="1.8" fill="#c0132c"/><circle cx="243.9" cy="321.4" r="1.8" fill="#c0132c"/>
<line x1="225.3" y1="322" x2="235.2" y2="325.9" stroke="#c0132c" stroke-width="1.2"/>
<circle cx="225.3" cy="322" r="1.8" fill="#c0132c"/><circle cx="235.2" cy="325.9" r="1.8" fill="#c0132c"/>
<line x1="225.3" y1="330" x2="235.9" y2="335.3" stroke="#c0132c" stroke-width="1.2"/>
<circle cx="225.3" cy="330" r="1.8" fill="#c0132c"/><circle cx="235.9" cy="335.3" r="1.8" fill="#c0132c"/>
<line x1="225.3" y1="314" x2="236" y2="316" stroke="#c0132c" stroke-width="1.2"/>
<circle cx="225.3" cy="314" r="1.8" fill="#c0132c"/><circle cx="236" cy="316" r="1.8" fill="#c0132c"/>
<line x1="225.3" y1="328" x2="236" y2="324" stroke="#c0132c" stroke-width="1.2"/>
<circle cx="225.3" cy="328" r="1.8" fill="#c0132c"/><circle cx="236" cy="324" r="1.8" fill="#c0132c"/>
<line x1="225.3" y1="358" x2="229.6" y2="378.4" stroke="#c0132c" stroke-width="1.2"/>
<circle cx="225.3" cy="358" r="1.8" fill="#c0132c"/><circle cx="229.6" cy="378.4" r="1.8" fill="#c0132c"/>
<line x1="225.3" y1="336.7" x2="251.4" y2="364.8" stroke="#c0132c" stroke-width="1.2"/>
<circle cx="225.3" cy="336.7" r="1.8" fill="#c0132c"/><circle cx="251.4" cy="364.8" r="1.8" fill="#c0132c"/>
<line x1="225.3" y1="316" x2="269.5" y2="373.4" stroke="#c0132c" stroke-width="1.2"/>
<circle cx="225.3" cy="316" r="1.8" fill="#c0132c"/><circle cx="269.5" cy="373.4" r="1.8" fill="#c0132c"/>
<line x1="225.3" y1="328.4" x2="249.3" y2="375.1" stroke="#4dae4a" stroke-width="1.2"/>
<circle cx="225.3" cy="328.4" r="1.8" fill="#4dae4a"/><circle cx="249.3" cy="375.1" r="1.8" fill="#4dae4a"/>
<line x1="225.3" y1="330" x2="251.9" y2="393.6" stroke="#c0132c" stroke-width="1.2"/>
<circle cx="225.3" cy="330" r="1.8" fill="#c0132c"/><circle cx="251.9" cy="393.6" r="1.8" fill="#c0132c"/>
<line x1="225.3" y1="327" x2="248.9" y2="402.4" stroke="#c0132c" stroke-width="1.2"/>
<circle cx="225.3" cy="327" r="1.8" fill="#c0132c"/><circle cx="248.9" cy="402.4" r="1.8" fill="#c0132c"/>
<line x1="225.3" y1="325" x2="248.9" y2="407.4" stroke="#c0132c" stroke-width="1.2"/>
<circle cx="225.3" cy="325" r="1.8" fill="#c0132c"/><circle cx="248.9" cy="407.4" r="1.8" fill="#c0132c"/>
<line x1="225.3" y1="332" x2="236.5" y2="335" stroke="#c0132c" stroke-width="1.2"/>
<circle cx="225.3" cy="332" r="1.8" fill="#c0132c"/><circle cx="236.5" cy="335" r="1.8" fill="#c0132c"/>
<line x1="225.3" y1="335" x2="230" y2="338" stroke="#c0132c" stroke-width="1.2"/>
<circle cx="225.3" cy="335" r="1.8" fill="#c0132c"/><circle cx="230" cy="338" r="1.8" fill="#c0132c"/>
<line x1="225.3" y1="319" x2="238" y2="318" stroke="#c0132c" stroke-width="1.2"/>
<circle cx="225.3" cy="319" r="1.8" fill="#c0132c"/><circle cx="238" cy="318" r="1.8" fill="#c0132c"/>
<line x1="225.3" y1="325" x2="240" y2="330" stroke="#c0132c" stroke-width="1.2"/>
<circle cx="225.3" cy="325" r="1.8" fill="#c0132c"/><circle cx="240" cy="330" r="1.8" fill="#c0132c"/>
<line x1="225.3" y1="336" x2="233" y2="329" stroke="#c0132c" stroke-width="1.2"/>
<circle cx="225.3" cy="336" r="1.8" fill="#c0132c"/><circle cx="233" cy="329" r="1.8" fill="#c0132c"/>
<line x1="225.3" y1="321" x2="237" y2="322" stroke="#4dae4a" stroke-width="1.2"/>
<circle cx="225.3" cy="321" r="1.8" fill="#4dae4a"/><circle cx="237" cy="322" r="1.8" fill="#4dae4a"/>
<line x1="225.3" y1="338" x2="231" y2="333" stroke="#c0132c" stroke-width="1.2"/>
<circle cx="225.3" cy="338" r="1.8" fill="#c0132c"/><circle cx="231" cy="333" r="1.8" fill="#c0132c"/>
<line x1="225.3" y1="317" x2="232" y2="320" stroke="#c0132c" stroke-width="1.2"/>
<circle cx="225.3" cy="317" r="1.8" fill="#c0132c"/><circle cx="232" cy="320" r="1.8" fill="#c0132c"/>
<text x="148.5" y="443.2" font-size="12" text-anchor="start" fill="#2e2e2e" stroke="#2e2e2e" stroke-width="0.15" textLength="193.9" lengthAdjust="spacingAndGlyphs">Days from first mosunetuzumab treatment</text>
<text x="437.2" y="337.4" font-size="10" text-anchor="start" fill="#2e2e2e" stroke="#2e2e2e" stroke-width="0.15" textLength="42.1" lengthAdjust="spacingAndGlyphs">Response</text>
<circle cx="443.1" cy="348.2" r="1.7" fill="#b5152b"/>
<text x="450.9" y="351.8" font-size="10" text-anchor="start" fill="#2e2e2e" stroke="#2e2e2e" stroke-width="0.15" textLength="29.6" lengthAdjust="spacingAndGlyphs">SD/PD</text>
<circle cx="443.1" cy="361.2" r="1.7" fill="#4e9e4a"/>
<text x="450.9" y="364.8" font-size="10" text-anchor="start" fill="#2e2e2e" stroke="#2e2e2e" stroke-width="0.15" textLength="28.4" lengthAdjust="spacingAndGlyphs">CR/PR</text>
<circle cx="443.1" cy="374.2" r="1.7" fill="#c8c8c8"/>
<text x="450.9" y="377.8" font-size="10" text-anchor="start" fill="#2e2e2e" stroke="#2e2e2e" stroke-width="0.15" textLength="14.9" lengthAdjust="spacingAndGlyphs">ND</text>
<rect x="297.73" y="485.00" width="7.33" height="27.05" fill="#dcdce1"/>
<rect x="305.05" y="485.00" width="7.33" height="27.05" fill="#dcdce1"/>
<rect x="312.38" y="485.00" width="7.33" height="27.05" fill="#dcdce1"/>
<rect x="319.70" y="485.00" width="7.33" height="27.05" fill="#dcdce1"/>
<rect x="92.62" y="512.05" width="7.33" height="27.05" fill="#dcdce1"/>
<rect x="165.88" y="512.05" width="7.33" height="27.05" fill="#dcdce1"/>
<rect x="202.50" y="512.05" width="7.33" height="27.05" fill="#dcdce1"/>
<rect x="209.83" y="512.05" width="7.33" height="27.05" fill="#dcdce1"/>
<rect x="217.15" y="512.05" width="7.33" height="27.05" fill="#dcdce1"/>
<rect x="224.47" y="512.05" width="7.33" height="27.05" fill="#dcdce1"/>
<rect x="231.80" y="512.05" width="7.33" height="27.05" fill="#dcdce1"/>
<rect x="283.08" y="512.05" width="7.33" height="27.05" fill="#dcdce1"/>
<rect x="290.40" y="512.05" width="7.33" height="27.05" fill="#dcdce1"/>
<rect x="297.73" y="512.05" width="7.33" height="27.05" fill="#dcdce1"/>
<rect x="305.05" y="512.05" width="7.33" height="27.05" fill="#dcdce1"/>
<rect x="312.38" y="512.05" width="7.33" height="27.05" fill="#dcdce1"/>
<rect x="319.70" y="512.05" width="7.33" height="27.05" fill="#dcdce1"/>
<rect x="56.00" y="539.10" width="7.33" height="27.05" fill="#dcdce1"/>
<rect x="77.97" y="539.10" width="7.33" height="27.05" fill="#dcdce1"/>
<rect x="85.30" y="539.10" width="7.33" height="27.05" fill="#dcdce1"/>
<rect x="92.62" y="539.10" width="7.33" height="27.05" fill="#dcdce1"/>
<rect x="107.28" y="539.10" width="7.33" height="27.05" fill="#dcdce1"/>
<rect x="114.60" y="539.10" width="7.33" height="27.05" fill="#dcdce1"/>
<rect x="129.25" y="539.10" width="7.33" height="27.05" fill="#dcdce1"/>
<rect x="136.57" y="539.10" width="7.33" height="27.05" fill="#dcdce1"/>
<rect x="143.90" y="539.10" width="7.33" height="27.05" fill="#dcdce1"/>
<rect x="151.23" y="539.10" width="7.33" height="27.05" fill="#dcdce1"/>
<rect x="158.55" y="539.10" width="7.33" height="27.05" fill="#dcdce1"/>
<rect x="195.18" y="539.10" width="7.33" height="27.05" fill="#dcdce1"/>
<rect x="202.50" y="539.10" width="7.33" height="27.05" fill="#dcdce1"/>
<rect x="224.47" y="539.10" width="7.33" height="27.05" fill="#dcdce1"/>
<rect x="231.80" y="539.10" width="7.33" height="27.05" fill="#dcdce1"/>
<rect x="297.73" y="539.10" width="7.33" height="27.05" fill="#dcdce1"/>
<rect x="305.05" y="539.10" width="7.33" height="27.05" fill="#dcdce1"/>
<rect x="312.38" y="539.10" width="7.33" height="27.05" fill="#dcdce1"/>
<rect x="319.70" y="539.10" width="7.33" height="27.05" fill="#dcdce1"/>
<rect x="99.95" y="569.20" width="7.33" height="27.05" fill="#dcdce1"/>
<rect x="107.28" y="569.20" width="7.33" height="27.05" fill="#dcdce1"/>
<rect x="114.60" y="569.20" width="7.33" height="27.05" fill="#dcdce1"/>
<rect x="121.92" y="569.20" width="7.33" height="27.05" fill="#dcdce1"/>
<rect x="129.25" y="569.20" width="7.33" height="27.05" fill="#dcdce1"/>
<rect x="136.57" y="569.20" width="7.33" height="27.05" fill="#dcdce1"/>
<rect x="143.90" y="569.20" width="7.33" height="27.05" fill="#dcdce1"/>
<rect x="151.23" y="569.20" width="7.33" height="27.05" fill="#dcdce1"/>
<rect x="158.55" y="569.20" width="7.33" height="27.05" fill="#dcdce1"/>
<rect x="165.88" y="569.20" width="7.33" height="27.05" fill="#dcdce1"/>
<rect x="246.45" y="569.20" width="7.33" height="27.05" fill="#dcdce1"/>
<rect x="253.78" y="569.20" width="7.33" height="27.05" fill="#dcdce1"/>
<rect x="261.10" y="569.20" width="7.33" height="27.05" fill="#dcdce1"/>
<rect x="268.43" y="569.20" width="7.33" height="27.05" fill="#dcdce1"/>
<rect x="275.75" y="569.20" width="7.33" height="27.05" fill="#dcdce1"/>
<rect x="283.08" y="569.20" width="7.33" height="27.05" fill="#dcdce1"/>
<rect x="290.40" y="569.20" width="7.33" height="27.05" fill="#dcdce1"/>
<rect x="85.30" y="596.25" width="7.33" height="27.05" fill="#dcdce1"/>
<rect x="92.62" y="596.25" width="7.33" height="27.05" fill="#dcdce1"/>
<rect x="99.95" y="596.25" width="7.33" height="27.05" fill="#dcdce1"/>
<rect x="107.28" y="596.25" width="7.33" height="27.05" fill="#dcdce1"/>
<rect x="114.60" y="596.25" width="7.33" height="27.05" fill="#dcdce1"/>
<rect x="121.92" y="596.25" width="7.33" height="27.05" fill="#dcdce1"/>
<rect x="129.25" y="596.25" width="7.33" height="27.05" fill="#dcdce1"/>
<rect x="136.57" y="596.25" width="7.33" height="27.05" fill="#dcdce1"/>
<rect x="143.90" y="596.25" width="7.33" height="27.05" fill="#dcdce1"/>
<rect x="151.23" y="596.25" width="7.33" height="27.05" fill="#dcdce1"/>
<rect x="158.55" y="596.25" width="7.33" height="27.05" fill="#dcdce1"/>
<rect x="165.88" y="596.25" width="7.33" height="27.05" fill="#dcdce1"/>
<rect x="224.47" y="596.25" width="7.33" height="27.05" fill="#dcdce1"/>
<rect x="231.80" y="596.25" width="7.33" height="27.05" fill="#dcdce1"/>
<rect x="246.45" y="596.25" width="7.33" height="27.05" fill="#dcdce1"/>
<rect x="253.78" y="596.25" width="7.33" height="27.05" fill="#dcdce1"/>
<rect x="261.10" y="596.25" width="7.33" height="27.05" fill="#dcdce1"/>
<rect x="268.43" y="596.25" width="7.33" height="27.05" fill="#dcdce1"/>
<rect x="275.75" y="596.25" width="7.33" height="27.05" fill="#dcdce1"/>
<rect x="283.08" y="596.25" width="7.33" height="27.05" fill="#dcdce1"/>
<rect x="290.40" y="596.25" width="7.33" height="27.05" fill="#dcdce1"/>
<rect x="56.00" y="623.30" width="7.33" height="27.05" fill="#dcdce1"/>
<rect x="77.97" y="623.30" width="7.33" height="27.05" fill="#dcdce1"/>
<rect x="85.30" y="623.30" width="7.33" height="27.05" fill="#dcdce1"/>
<rect x="92.62" y="623.30" width="7.33" height="27.05" fill="#dcdce1"/>
<rect x="99.95" y="623.30" width="7.33" height="27.05" fill="#dcdce1"/>
<rect x="107.28" y="623.30" width="7.33" height="27.05" fill="#dcdce1"/>
<rect x="114.60" y="623.30" width="7.33" height="27.05" fill="#dcdce1"/>
<rect x="121.92" y="623.30" width="7.33" height="27.05" fill="#dcdce1"/>
<rect x="129.25" y="623.30" width="7.33" height="27.05" fill="#dcdce1"/>
<rect x="136.57" y="623.30" width="7.33" height="27.05" fill="#dcdce1"/>
<rect x="143.90" y="623.30" width="7.33" height="27.05" fill="#dcdce1"/>
<rect x="151.23" y="623.30" width="7.33" height="27.05" fill="#dcdce1"/>
<rect x="158.55" y="623.30" width="7.33" height="27.05" fill="#dcdce1"/>
<rect x="165.88" y="623.30" width="7.33" height="27.05" fill="#dcdce1"/>
<rect x="195.18" y="623.30" width="7.33" height="27.05" fill="#dcdce1"/>
<rect x="202.50" y="623.30" width="7.33" height="27.05" fill="#dcdce1"/>
<rect x="224.47" y="623.30" width="7.33" height="27.05" fill="#dcdce1"/>
<rect x="231.80" y="623.30" width="7.33" height="27.05" fill="#dcdce1"/>
<rect x="246.45" y="623.30" width="7.33" height="27.05" fill="#dcdce1"/>
<rect x="253.78" y="623.30" width="7.33" height="27.05" fill="#dcdce1"/>
<rect x="261.10" y="623.30" width="7.33" height="27.05" fill="#dcdce1"/>
<rect x="268.43" y="623.30" width="7.33" height="27.05" fill="#dcdce1"/>
<rect x="275.75" y="623.30" width="7.33" height="27.05" fill="#dcdce1"/>
<rect x="283.08" y="623.30" width="7.33" height="27.05" fill="#dcdce1"/>
<rect x="290.40" y="623.30" width="7.33" height="27.05" fill="#dcdce1"/>
<rect x="305.05" y="623.30" width="7.33" height="27.05" fill="#dcdce1"/>
<rect x="312.38" y="623.30" width="7.33" height="27.05" fill="#dcdce1"/>
<rect x="319.70" y="623.30" width="7.33" height="27.05" fill="#dcdce1"/>
<line x1="56.00" y1="485" x2="56.00" y2="566.15" stroke="#c2c2c6" stroke-width="0.9"/>
<line x1="63.33" y1="485" x2="63.33" y2="566.15" stroke="#c2c2c6" stroke-width="0.9"/>
<line x1="70.65" y1="485" x2="70.65" y2="566.15" stroke="#c2c2c6" stroke-width="0.9"/>
<line x1="77.97" y1="485" x2="77.97" y2="566.15" stroke="#c2c2c6" stroke-width="0.9"/>
<line x1="85.30" y1="485" x2="85.30" y2="566.15" stroke="#c2c2c6" stroke-width="0.9"/>
<line x1="92.62" y1="485" x2="92.62" y2="566.15" stroke="#c2c2c6" stroke-width="0.9"/>
<line x1="99.95" y1="485" x2="99.95" y2="566.15" stroke="#c2c2c6" stroke-width="0.9"/>
<line x1="107.28" y1="485" x2="107.28" y2="566.15" stroke="#c2c2c6" stroke-width="0.9"/>
<line x1="114.60" y1="485" x2="114.60" y2="566.15" stroke="#c2c2c6" stroke-width="0.9"/>
<line x1="121.92" y1="485" x2="121.92" y2="566.15" stroke="#c2c2c6" stroke-width="0.9"/>
<line x1="129.25" y1="485" x2="129.25" y2="566.15" stroke="#c2c2c6" stroke-width="0.9"/>
<line x1="136.57" y1="485" x2="136.57" y2="566.15" stroke="#c2c2c6" stroke-width="0.9"/>
<line x1="143.90" y1="485" x2="143.90" y2="566.15" stroke="#c2c2c6" stroke-width="0.9"/>
<line x1="151.23" y1="485" x2="151.23" y2="566.15" stroke="#c2c2c6" stroke-width="0.9"/>
<line x1="158.55" y1="485" x2="158.55" y2="566.15" stroke="#c2c2c6" stroke-width="0.9"/>
<line x1="165.88" y1="485" x2="165.88" y2="566.15" stroke="#c2c2c6" stroke-width="0.9"/>
<line x1="173.20" y1="485" x2="173.20" y2="566.15" stroke="#c2c2c6" stroke-width="0.9"/>
<line x1="180.53" y1="485" x2="180.53" y2="566.15" stroke="#c2c2c6" stroke-width="0.9"/>
<line x1="187.85" y1="485" x2="187.85" y2="566.15" stroke="#c2c2c6" stroke-width="0.9"/>
<line x1="195.18" y1="485" x2="195.18" y2="566.15" stroke="#c2c2c6" stroke-width="0.9"/>
<line x1="202.50" y1="485" x2="202.50" y2="566.15" stroke="#c2c2c6" stroke-width="0.9"/>
<line x1="209.83" y1="485" x2="209.83" y2="566.15" stroke="#c2c2c6" stroke-width="0.9"/>
<line x1="217.15" y1="485" x2="217.15" y2="566.15" stroke="#c2c2c6" stroke-width="0.9"/>
<line x1="224.47" y1="485" x2="224.47" y2="566.15" stroke="#c2c2c6" stroke-width="0.9"/>
<line x1="231.80" y1="485" x2="231.80" y2="566.15" stroke="#c2c2c6" stroke-width="0.9"/>
<line x1="239.12" y1="485" x2="239.12" y2="566.15" stroke="#c2c2c6" stroke-width="0.9"/>
<line x1="246.45" y1="485" x2="246.45" y2="566.15" stroke="#c2c2c6" stroke-width="0.9"/>
<line x1="253.78" y1="485" x2="253.78" y2="566.15" stroke="#c2c2c6" stroke-width="0.9"/>
<line x1="261.10" y1="485" x2="261.10" y2="566.15" stroke="#c2c2c6" stroke-width="0.9"/>
<line x1="268.43" y1="485" x2="268.43" y2="566.15" stroke="#c2c2c6" stroke-width="0.9"/>
<line x1="275.75" y1="485" x2="275.75" y2="566.15" stroke="#c2c2c6" stroke-width="0.9"/>
<line x1="283.08" y1="485" x2="283.08" y2="566.15" stroke="#c2c2c6" stroke-width="0.9"/>
<line x1="290.40" y1="485" x2="290.40" y2="566.15" stroke="#c2c2c6" stroke-width="0.9"/>
<line x1="297.73" y1="485" x2="297.73" y2="566.15" stroke="#c2c2c6" stroke-width="0.9"/>
<line x1="305.05" y1="485" x2="305.05" y2="566.15" stroke="#c2c2c6" stroke-width="0.9"/>
<line x1="312.38" y1="485" x2="312.38" y2="566.15" stroke="#c2c2c6" stroke-width="0.9"/>
<line x1="319.70" y1="485" x2="319.70" y2="566.15" stroke="#c2c2c6" stroke-width="0.9"/>
<line x1="327.03" y1="485" x2="327.03" y2="566.15" stroke="#c2c2c6" stroke-width="0.9"/>
<line x1="56.0" y1="485.00" x2="327.03" y2="485.00" stroke="#c2c2c6" stroke-width="0.9"/>
<line x1="56.0" y1="512.05" x2="327.03" y2="512.05" stroke="#c2c2c6" stroke-width="0.9"/>
<line x1="56.0" y1="539.10" x2="327.03" y2="539.10" stroke="#c2c2c6" stroke-width="0.9"/>
<line x1="56.0" y1="566.15" x2="327.03" y2="566.15" stroke="#c2c2c6" stroke-width="0.9"/>
<line x1="56.00" y1="569.2" x2="56.00" y2="650.35" stroke="#c2c2c6" stroke-width="0.9"/>
<line x1="63.33" y1="569.2" x2="63.33" y2="650.35" stroke="#c2c2c6" stroke-width="0.9"/>
<line x1="70.65" y1="569.2" x2="70.65" y2="650.35" stroke="#c2c2c6" stroke-width="0.9"/>
<line x1="77.97" y1="569.2" x2="77.97" y2="650.35" stroke="#c2c2c6" stroke-width="0.9"/>
<line x1="85.30" y1="569.2" x2="85.30" y2="650.35" stroke="#c2c2c6" stroke-width="0.9"/>
<line x1="92.62" y1="569.2" x2="92.62" y2="650.35" stroke="#c2c2c6" stroke-width="0.9"/>
<line x1="99.95" y1="569.2" x2="99.95" y2="650.35" stroke="#c2c2c6" stroke-width="0.9"/>
<line x1="107.28" y1="569.2" x2="107.28" y2="650.35" stroke="#c2c2c6" stroke-width="0.9"/>
<line x1="114.60" y1="569.2" x2="114.60" y2="650.35" stroke="#c2c2c6" stroke-width="0.9"/>
<line x1="121.92" y1="569.2" x2="121.92" y2="650.35" stroke="#c2c2c6" stroke-width="0.9"/>
<line x1="129.25" y1="569.2" x2="129.25" y2="650.35" stroke="#c2c2c6" stroke-width="0.9"/>
<line x1="136.57" y1="569.2" x2="136.57" y2="650.35" stroke="#c2c2c6" stroke-width="0.9"/>
<line x1="143.90" y1="569.2" x2="143.90" y2="650.35" stroke="#c2c2c6" stroke-width="0.9"/>
<line x1="151.23" y1="569.2" x2="151.23" y2="650.35" stroke="#c2c2c6" stroke-width="0.9"/>
<line x1="158.55" y1="569.2" x2="158.55" y2="650.35" stroke="#c2c2c6" stroke-width="0.9"/>
<line x1="165.88" y1="569.2" x2="165.88" y2="650.35" stroke="#c2c2c6" stroke-width="0.9"/>
<line x1="173.20" y1="569.2" x2="173.20" y2="650.35" stroke="#c2c2c6" stroke-width="0.9"/>
<line x1="180.53" y1="569.2" x2="180.53" y2="650.35" stroke="#c2c2c6" stroke-width="0.9"/>
<line x1="187.85" y1="569.2" x2="187.85" y2="650.35" stroke="#c2c2c6" stroke-width="0.9"/>
<line x1="195.18" y1="569.2" x2="195.18" y2="650.35" stroke="#c2c2c6" stroke-width="0.9"/>
<line x1="202.50" y1="569.2" x2="202.50" y2="650.35" stroke="#c2c2c6" stroke-width="0.9"/>
<line x1="209.83" y1="569.2" x2="209.83" y2="650.35" stroke="#c2c2c6" stroke-width="0.9"/>
<line x1="217.15" y1="569.2" x2="217.15" y2="650.35" stroke="#c2c2c6" stroke-width="0.9"/>
<line x1="224.47" y1="569.2" x2="224.47" y2="650.35" stroke="#c2c2c6" stroke-width="0.9"/>
<line x1="231.80" y1="569.2" x2="231.80" y2="650.35" stroke="#c2c2c6" stroke-width="0.9"/>
<line x1="239.12" y1="569.2" x2="239.12" y2="650.35" stroke="#c2c2c6" stroke-width="0.9"/>
<line x1="246.45" y1="569.2" x2="246.45" y2="650.35" stroke="#c2c2c6" stroke-width="0.9"/>
<line x1="253.78" y1="569.2" x2="253.78" y2="650.35" stroke="#c2c2c6" stroke-width="0.9"/>
<line x1="261.10" y1="569.2" x2="261.10" y2="650.35" stroke="#c2c2c6" stroke-width="0.9"/>
<line x1="268.43" y1="569.2" x2="268.43" y2="650.35" stroke="#c2c2c6" stroke-width="0.9"/>
<line x1="275.75" y1="569.2" x2="275.75" y2="650.35" stroke="#c2c2c6" stroke-width="0.9"/>
<line x1="283.08" y1="569.2" x2="283.08" y2="650.35" stroke="#c2c2c6" stroke-width="0.9"/>
<line x1="290.40" y1="569.2" x2="290.40" y2="650.35" stroke="#c2c2c6" stroke-width="0.9"/>
<line x1="297.73" y1="569.2" x2="297.73" y2="650.35" stroke="#c2c2c6" stroke-width="0.9"/>
<line x1="305.05" y1="569.2" x2="305.05" y2="650.35" stroke="#c2c2c6" stroke-width="0.9"/>
<line x1="312.38" y1="569.2" x2="312.38" y2="650.35" stroke="#c2c2c6" stroke-width="0.9"/>
<line x1="319.70" y1="569.2" x2="319.70" y2="650.35" stroke="#c2c2c6" stroke-width="0.9"/>
<line x1="327.03" y1="569.2" x2="327.03" y2="650.35" stroke="#c2c2c6" stroke-width="0.9"/>
<line x1="56.0" y1="569.20" x2="327.03" y2="569.20" stroke="#c2c2c6" stroke-width="0.9"/>
<line x1="56.0" y1="596.25" x2="327.03" y2="596.25" stroke="#c2c2c6" stroke-width="0.9"/>
<line x1="56.0" y1="623.30" x2="327.03" y2="623.30" stroke="#c2c2c6" stroke-width="0.9"/>
<line x1="56.0" y1="650.35" x2="327.03" y2="650.35" stroke="#c2c2c6" stroke-width="0.9"/>
<rect x="56.00" y="485.00" width="7.33" height="27.05" fill="#c9082e"/>
<rect x="63.33" y="485.00" width="7.33" height="27.05" fill="#c9082e"/>
<rect x="70.65" y="485.00" width="7.33" height="27.05" fill="#c9082e"/>
<rect x="77.97" y="485.00" width="7.33" height="27.05" fill="#c9082e"/>
<rect x="85.30" y="485.00" width="7.33" height="27.05" fill="#c9082e"/>
<rect x="92.62" y="485.00" width="7.33" height="27.05" fill="#c9082e"/>
<rect x="99.95" y="485.00" width="7.33" height="27.05" fill="#c9082e"/>
<rect x="107.28" y="485.00" width="7.33" height="27.05" fill="#c9082e"/>
<rect x="114.60" y="485.00" width="7.33" height="27.05" fill="#c9082e"/>
<rect x="121.92" y="485.00" width="7.33" height="27.05" fill="#c9082e"/>
<rect x="129.25" y="485.00" width="7.33" height="27.05" fill="#c9082e"/>
<rect x="136.57" y="485.00" width="7.33" height="27.05" fill="#c9082e"/>
<rect x="143.90" y="485.00" width="7.33" height="27.05" fill="#c9082e"/>
<rect x="151.23" y="485.00" width="7.33" height="27.05" fill="#c9082e"/>
<rect x="158.55" y="485.00" width="7.33" height="27.05" fill="#c9082e"/>
<rect x="165.88" y="485.00" width="7.33" height="27.05" fill="#c9082e"/>
<rect x="56.00" y="512.05" width="7.33" height="27.05" fill="#e3007c"/>
<rect x="99.95" y="512.05" width="7.33" height="27.05" fill="#e3007c"/>
<rect x="107.28" y="512.05" width="7.33" height="27.05" fill="#e3007c"/>
<rect x="114.60" y="512.05" width="7.33" height="27.05" fill="#e3007c"/>
<rect x="209.83" y="539.10" width="7.33" height="27.05" fill="#f39200"/>
<rect x="239.12" y="539.10" width="7.33" height="27.05" fill="#fbba00"/>
<rect x="246.45" y="539.10" width="7.33" height="27.05" fill="#fbba00"/>
<rect x="253.78" y="539.10" width="7.33" height="27.05" fill="#fbba00"/>
<rect x="261.10" y="539.10" width="7.33" height="27.05" fill="#fbba00"/>
<rect x="268.43" y="539.10" width="7.33" height="27.05" fill="#b9671d"/>
<rect x="275.75" y="539.10" width="7.33" height="27.05" fill="#b9671d"/>
<rect x="283.08" y="539.10" width="7.33" height="27.05" fill="#fbba00"/>
<rect x="290.40" y="539.10" width="7.33" height="27.05" fill="#b9671d"/>
<rect x="56.00" y="569.20" width="7.33" height="27.05" fill="#c9082e"/>
<rect x="63.33" y="569.20" width="7.33" height="27.05" fill="#c9082e"/>
<rect x="70.65" y="569.20" width="7.33" height="27.05" fill="#c9082e"/>
<rect x="77.97" y="569.20" width="7.33" height="27.05" fill="#c9082e"/>
<rect x="85.30" y="569.20" width="7.33" height="27.05" fill="#c9082e"/>
<rect x="92.62" y="569.20" width="7.33" height="27.05" fill="#c9082e"/>
<rect x="173.20" y="569.20" width="7.33" height="27.05" fill="#c9082e"/>
<rect x="180.53" y="569.20" width="7.33" height="27.05" fill="#c9082e"/>
<rect x="187.85" y="569.20" width="7.33" height="27.05" fill="#c9082e"/>
<rect x="195.18" y="569.20" width="7.33" height="27.05" fill="#c9082e"/>
<rect x="202.50" y="569.20" width="7.33" height="27.05" fill="#c9082e"/>
<rect x="209.83" y="569.20" width="7.33" height="27.05" fill="#c9082e"/>
<rect x="217.15" y="569.20" width="7.33" height="27.05" fill="#c9082e"/>
<rect x="224.47" y="569.20" width="7.33" height="27.05" fill="#c9082e"/>
<rect x="231.80" y="569.20" width="7.33" height="27.05" fill="#c9082e"/>
<rect x="297.73" y="569.20" width="7.33" height="27.05" fill="#c9082e"/>
<rect x="305.05" y="569.20" width="7.33" height="27.05" fill="#c9082e"/>
<rect x="312.38" y="569.20" width="7.33" height="27.05" fill="#c9082e"/>
<rect x="319.70" y="569.20" width="7.33" height="27.05" fill="#c9082e"/>
<rect x="56.00" y="596.25" width="7.33" height="27.05" fill="#e3007c"/>
<rect x="173.20" y="596.25" width="7.33" height="27.05" fill="#e3007c"/>
<rect x="180.53" y="596.25" width="7.33" height="27.05" fill="#e3007c"/>
<rect x="202.50" y="596.25" width="7.33" height="27.05" fill="#e3007c"/>
<rect x="297.73" y="596.25" width="7.33" height="27.05" fill="#e3007c"/>
<rect x="305.05" y="596.25" width="7.33" height="27.05" fill="#e3007c"/>
<rect x="312.38" y="596.25" width="7.33" height="27.05" fill="#e3007c"/>
<rect x="209.83" y="623.30" width="7.33" height="27.05" fill="#f39200"/>
<rect x="217.15" y="623.30" width="7.33" height="27.05" fill="#b9671d"/>
<rect x="239.12" y="623.30" width="7.33" height="27.05" fill="#fbba00"/>
<line x1="63.33" y1="485.00" x2="63.33" y2="512.05" stroke="#fff" stroke-opacity="0.45" stroke-width="0.9"/>
<line x1="70.65" y1="485.00" x2="70.65" y2="512.05" stroke="#fff" stroke-opacity="0.45" stroke-width="0.9"/>
<line x1="77.97" y1="485.00" x2="77.97" y2="512.05" stroke="#fff" stroke-opacity="0.45" stroke-width="0.9"/>
<line x1="85.30" y1="485.00" x2="85.30" y2="512.05" stroke="#fff" stroke-opacity="0.45" stroke-width="0.9"/>
<line x1="92.62" y1="485.00" x2="92.62" y2="512.05" stroke="#fff" stroke-opacity="0.45" stroke-width="0.9"/>
<line x1="99.95" y1="485.00" x2="99.95" y2="512.05" stroke="#fff" stroke-opacity="0.45" stroke-width="0.9"/>
<line x1="107.28" y1="485.00" x2="107.28" y2="512.05" stroke="#fff" stroke-opacity="0.45" stroke-width="0.9"/>
<line x1="114.60" y1="485.00" x2="114.60" y2="512.05" stroke="#fff" stroke-opacity="0.45" stroke-width="0.9"/>
<line x1="121.92" y1="485.00" x2="121.92" y2="512.05" stroke="#fff" stroke-opacity="0.45" stroke-width="0.9"/>
<line x1="129.25" y1="485.00" x2="129.25" y2="512.05" stroke="#fff" stroke-opacity="0.45" stroke-width="0.9"/>
<line x1="136.57" y1="485.00" x2="136.57" y2="512.05" stroke="#fff" stroke-opacity="0.45" stroke-width="0.9"/>
<line x1="143.90" y1="485.00" x2="143.90" y2="512.05" stroke="#fff" stroke-opacity="0.45" stroke-width="0.9"/>
<line x1="151.23" y1="485.00" x2="151.23" y2="512.05" stroke="#fff" stroke-opacity="0.45" stroke-width="0.9"/>
<line x1="158.55" y1="485.00" x2="158.55" y2="512.05" stroke="#fff" stroke-opacity="0.45" stroke-width="0.9"/>
<line x1="165.88" y1="485.00" x2="165.88" y2="512.05" stroke="#fff" stroke-opacity="0.45" stroke-width="0.9"/>
<line x1="107.28" y1="512.05" x2="107.28" y2="539.10" stroke="#fff" stroke-opacity="0.45" stroke-width="0.9"/>
<line x1="114.60" y1="512.05" x2="114.60" y2="539.10" stroke="#fff" stroke-opacity="0.45" stroke-width="0.9"/>
<line x1="246.45" y1="539.10" x2="246.45" y2="566.15" stroke="#fff" stroke-opacity="0.45" stroke-width="0.9"/>
<line x1="253.78" y1="539.10" x2="253.78" y2="566.15" stroke="#fff" stroke-opacity="0.45" stroke-width="0.9"/>
<line x1="261.10" y1="539.10" x2="261.10" y2="566.15" stroke="#fff" stroke-opacity="0.45" stroke-width="0.9"/>
<line x1="268.43" y1="539.10" x2="268.43" y2="566.15" stroke="#fff" stroke-opacity="0.45" stroke-width="0.9"/>
<line x1="275.75" y1="539.10" x2="275.75" y2="566.15" stroke="#fff" stroke-opacity="0.45" stroke-width="0.9"/>
<line x1="283.08" y1="539.10" x2="283.08" y2="566.15" stroke="#fff" stroke-opacity="0.45" stroke-width="0.9"/>
<line x1="290.40" y1="539.10" x2="290.40" y2="566.15" stroke="#fff" stroke-opacity="0.45" stroke-width="0.9"/>
<line x1="63.33" y1="569.20" x2="63.33" y2="596.25" stroke="#fff" stroke-opacity="0.45" stroke-width="0.9"/>
<line x1="70.65" y1="569.20" x2="70.65" y2="596.25" stroke="#fff" stroke-opacity="0.45" stroke-width="0.9"/>
<line x1="77.97" y1="569.20" x2="77.97" y2="596.25" stroke="#fff" stroke-opacity="0.45" stroke-width="0.9"/>
<line x1="85.30" y1="569.20" x2="85.30" y2="596.25" stroke="#fff" stroke-opacity="0.45" stroke-width="0.9"/>
<line x1="92.62" y1="569.20" x2="92.62" y2="596.25" stroke="#fff" stroke-opacity="0.45" stroke-width="0.9"/>
<line x1="180.53" y1="569.20" x2="180.53" y2="596.25" stroke="#fff" stroke-opacity="0.45" stroke-width="0.9"/>
<line x1="187.85" y1="569.20" x2="187.85" y2="596.25" stroke="#fff" stroke-opacity="0.45" stroke-width="0.9"/>
<line x1="195.18" y1="569.20" x2="195.18" y2="596.25" stroke="#fff" stroke-opacity="0.45" stroke-width="0.9"/>
<line x1="202.50" y1="569.20" x2="202.50" y2="596.25" stroke="#fff" stroke-opacity="0.45" stroke-width="0.9"/>
<line x1="209.83" y1="569.20" x2="209.83" y2="596.25" stroke="#fff" stroke-opacity="0.45" stroke-width="0.9"/>
<line x1="217.15" y1="569.20" x2="217.15" y2="596.25" stroke="#fff" stroke-opacity="0.45" stroke-width="0.9"/>
<line x1="224.47" y1="569.20" x2="224.47" y2="596.25" stroke="#fff" stroke-opacity="0.45" stroke-width="0.9"/>
<line x1="231.80" y1="569.20" x2="231.80" y2="596.25" stroke="#fff" stroke-opacity="0.45" stroke-width="0.9"/>
<line x1="305.05" y1="569.20" x2="305.05" y2="596.25" stroke="#fff" stroke-opacity="0.45" stroke-width="0.9"/>
<line x1="312.38" y1="569.20" x2="312.38" y2="596.25" stroke="#fff" stroke-opacity="0.45" stroke-width="0.9"/>
<line x1="319.70" y1="569.20" x2="319.70" y2="596.25" stroke="#fff" stroke-opacity="0.45" stroke-width="0.9"/>
<line x1="180.53" y1="596.25" x2="180.53" y2="623.30" stroke="#fff" stroke-opacity="0.45" stroke-width="0.9"/>
<line x1="305.05" y1="596.25" x2="305.05" y2="623.30" stroke="#fff" stroke-opacity="0.45" stroke-width="0.9"/>
<line x1="312.38" y1="596.25" x2="312.38" y2="623.30" stroke="#fff" stroke-opacity="0.45" stroke-width="0.9"/>
<line x1="217.15" y1="623.30" x2="217.15" y2="650.35" stroke="#fff" stroke-opacity="0.45" stroke-width="0.9"/>
<line x1="56.00" y1="512.05" x2="63.33" y2="512.05" stroke="#fff" stroke-opacity="0.45" stroke-width="0.9"/>
<line x1="99.95" y1="512.05" x2="107.28" y2="512.05" stroke="#fff" stroke-opacity="0.45" stroke-width="0.9"/>
<line x1="107.28" y1="512.05" x2="114.60" y2="512.05" stroke="#fff" stroke-opacity="0.45" stroke-width="0.9"/>
<line x1="114.60" y1="512.05" x2="121.92" y2="512.05" stroke="#fff" stroke-opacity="0.45" stroke-width="0.9"/>
<line x1="56.00" y1="596.25" x2="63.33" y2="596.25" stroke="#fff" stroke-opacity="0.45" stroke-width="0.9"/>
<line x1="173.20" y1="596.25" x2="180.52" y2="596.25" stroke="#fff" stroke-opacity="0.45" stroke-width="0.9"/>
<line x1="180.53" y1="596.25" x2="187.85" y2="596.25" stroke="#fff" stroke-opacity="0.45" stroke-width="0.9"/>
<line x1="202.50" y1="596.25" x2="209.82" y2="596.25" stroke="#fff" stroke-opacity="0.45" stroke-width="0.9"/>
<line x1="297.73" y1="596.25" x2="305.05" y2="596.25" stroke="#fff" stroke-opacity="0.45" stroke-width="0.9"/>
<line x1="305.05" y1="596.25" x2="312.38" y2="596.25" stroke="#fff" stroke-opacity="0.45" stroke-width="0.9"/>
<line x1="312.38" y1="596.25" x2="319.70" y2="596.25" stroke="#fff" stroke-opacity="0.45" stroke-width="0.9"/>
<text x="332.3" y="501.625" font-size="10" text-anchor="start" fill="#2e2e2e" stroke="#2e2e2e" stroke-width="0.15" textLength="74.4" lengthAdjust="spacingAndGlyphs">IHC (16/293; 5%)</text>
<text x="332.3" y="528.675" font-size="10" text-anchor="start" fill="#2e2e2e" stroke="#2e2e2e" stroke-width="0.15" textLength="72.5" lengthAdjust="spacingAndGlyphs">RNA (4/187; 2%)</text>
<text x="332.3" y="555.725" font-size="10" text-anchor="start" fill="#2e2e2e" stroke="#2e2e2e" stroke-width="0.15" textLength="73.1" lengthAdjust="spacingAndGlyphs">WES (9/129; 7%)</text>
<text x="332.3" y="585.825" font-size="10" text-anchor="start" fill="#2e2e2e" stroke="#2e2e2e" stroke-width="0.15" textLength="74.4" lengthAdjust="spacingAndGlyphs">IHC (19/45; 42%)</text>
<text x="332.3" y="612.875" font-size="10" text-anchor="start" fill="#2e2e2e" stroke="#2e2e2e" stroke-width="0.15" textLength="72.5" lengthAdjust="spacingAndGlyphs">RNA (7/35; 20%)</text>
<text x="332.3" y="639.9250000000001" font-size="10" text-anchor="start" fill="#2e2e2e" stroke="#2e2e2e" stroke-width="0.15" textLength="73.1" lengthAdjust="spacingAndGlyphs">WES (3/20; 15%)</text>
<text transform="translate(37.5,525.5) rotate(-90)" x="0" y="0" font-size="10" text-anchor="middle" fill="#2e2e2e" stroke="#2e2e2e" stroke-width="0.15" textLength="15.7" lengthAdjust="spacingAndGlyphs">Pre-</text>
<text transform="translate(48.3,525.0) rotate(-90)" x="0" y="0" font-size="10" text-anchor="middle" fill="#2e2e2e" stroke="#2e2e2e" stroke-width="0.15" textLength="72.3" lengthAdjust="spacingAndGlyphs">mosunetuzumab</text>
<text transform="translate(48.6,608.0) rotate(-90)" x="0" y="0" font-size="10" text-anchor="middle" fill="#2e2e2e" stroke="#2e2e2e" stroke-width="0.15" textLength="65.9" lengthAdjust="spacingAndGlyphs">At-progression</text>
<text x="139.4" y="664.2" font-size="10" text-anchor="start" fill="#2e2e2e" stroke="#2e2e2e" stroke-width="0.15" textLength="104.5" lengthAdjust="spacingAndGlyphs">CD20 negative patients</text>
<text x="416.7" y="520.8" font-size="10" text-anchor="start" fill="#2e2e2e" stroke="#2e2e2e" stroke-width="0.15" textLength="53.3" lengthAdjust="spacingAndGlyphs">CD20 status</text>
<rect x="416.3" y="528.4" width="8.6" height="7.8" fill="#c9082e"/>
<text x="429.8" y="535.9" font-size="10" text-anchor="start" fill="#2e2e2e" stroke="#2e2e2e" stroke-width="0.15" textLength="47.5" lengthAdjust="spacingAndGlyphs">IHC &lt; 10%</text>
<rect x="416.3" y="542.4" width="8.6" height="7.8" fill="#e3007c"/>
<text x="429.8" y="549.9" font-size="10" text-anchor="start" fill="#2e2e2e" stroke="#2e2e2e" stroke-width="0.15" textLength="41.4" lengthAdjust="spacingAndGlyphs">RNA &lt;−1</text>
<rect x="416.3" y="557.3000000000001" width="8.6" height="7.8" fill="#b9671d"/>
<text x="429.8" y="564.8000000000001" font-size="10" text-anchor="start" fill="#2e2e2e" stroke="#2e2e2e" stroke-width="0.15" textLength="67.2" lengthAdjust="spacingAndGlyphs">WES Nonsense</text>
<rect x="416.3" y="571.5" width="8.6" height="7.8" fill="#fbba00"/>
<text x="429.8" y="579.0" font-size="10" text-anchor="start" fill="#2e2e2e" stroke="#2e2e2e" stroke-width="0.15" textLength="63.9" lengthAdjust="spacingAndGlyphs">WES Missense</text>
<rect x="416.3" y="585.7" width="8.6" height="7.8" fill="#f39200"/>
<text x="429.8" y="593.2" font-size="10" text-anchor="start" fill="#2e2e2e" stroke="#2e2e2e" stroke-width="0.15" textLength="49.8" lengthAdjust="spacingAndGlyphs">WES Splice</text>
<rect x="416.8" y="601.1" width="7.6" height="7.0" fill="#fff" stroke="#c8c8cc" stroke-width="1"/>
<text x="429.8" y="607.8000000000001" font-size="10" text-anchor="start" fill="#2e2e2e" stroke="#2e2e2e" stroke-width="0.15" textLength="67.7" lengthAdjust="spacingAndGlyphs">WT: IHC &gt;10%;</text>
<text x="429.8" y="620.3000000000001" font-size="10" text-anchor="start" fill="#2e2e2e" stroke="#2e2e2e" stroke-width="0.15" textLength="45.6" lengthAdjust="spacingAndGlyphs">RNA Log2</text>
<text x="429.8" y="632.8000000000001" font-size="10" fill="#2e2e2e" textLength="74.8" lengthAdjust="spacingAndGlyphs"><tspan font-style="italic">MS4A1</tspan>/CD19 &gt;1</text>
<rect x="416.3" y="638.5" width="8.6" height="7.8" fill="#dcdcdf"/>
<text x="429.8" y="645.3000000000001" font-size="10" text-anchor="start" fill="#2e2e2e" stroke="#2e2e2e" stroke-width="0.15" textLength="37.9" lengthAdjust="spacingAndGlyphs">[missing]</text>
<rect x="0.5" y="0.5" width="519" height="675" fill="none" stroke="#262626" stroke-width="1.2"/>
</svg>
</body></html>
